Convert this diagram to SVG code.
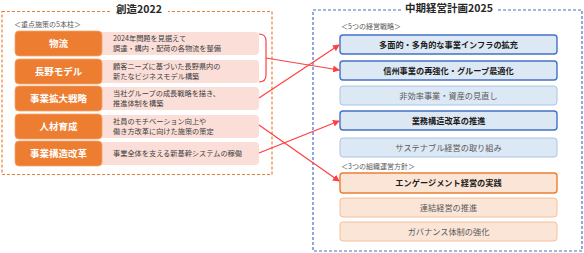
<svg xmlns="http://www.w3.org/2000/svg" width="584" height="253" viewBox="0 0 584 253">
<defs>
<marker id="ah" markerWidth="7" markerHeight="7" refX="6" refY="3.5" orient="auto" markerUnits="userSpaceOnUse">
<path d="M0,0 L7,3.5 L0,7 Z" fill="#ff4040"/>
</marker>
<style>
text{font-family:"Noto Sans CJK JP","Noto Sans",sans-serif;}
.frameL{fill:none;stroke:#ed7d31;stroke-width:1.2;stroke-dasharray:3,2;}
.frameR{fill:none;stroke:#4472c4;stroke-width:1.2;stroke-dasharray:3,2;}
.title{font-size:10.5px;font-weight:bold;fill:#262626;text-anchor:middle;}
.sub{font-size:7px;fill:#595959;}
.lab{fill:#ed7d31;stroke:#f4a46e;stroke-width:0.8;}
.labt{font-size:9.5px;font-weight:bold;fill:#ffffff;text-anchor:middle;}
.desc{fill:#fbded8;}
.desct{font-size:7.2px;fill:#404040;}
.bS{fill:#dde8f5;stroke:#4472c4;stroke-width:1.4;}
.bW{fill:#dde8f5;stroke:#a9c4e8;stroke-width:1;}
.oS{fill:#fbe5d6;stroke:#ed7d31;stroke-width:1.4;}
.oW{fill:#fbe5d6;stroke:#f4c09a;stroke-width:1;}
.tS{font-size:8.2px;font-weight:bold;fill:#1a1a1a;text-anchor:middle;}
.tW{font-size:8.2px;fill:#595959;text-anchor:middle;}
.con{fill:none;stroke:#ff4040;stroke-width:1.2;}
</style>
</defs>
<rect width="584" height="253" fill="#ffffff"/>

<g id="frame-left">
<rect class="frameL" x="2" y="11.5" width="270" height="163"/>
<rect x="111" y="4" width="57" height="14" fill="#ffffff"/>
<text class="title" x="139" y="12.5">創造2022</text>
<text class="sub" x="14" y="27">＜重点施策の5本柱＞</text>
</g>

<g id="frame-right">
<rect class="frameR" x="313" y="10" width="269" height="241"/>
<rect x="402" y="3" width="96" height="14" fill="#ffffff"/>
<text class="title" x="449" y="12">中期経営計画2025</text>
<text class="sub" x="341" y="29">＜5つの経営戦略＞</text>
<text class="sub" x="341" y="169">＜3つの組織運営方針＞</text>
</g>

<g id="pillar-butsuryu">
<rect class="desc" x="98" y="32" width="161" height="23" rx="4"/>
<rect class="lab" x="15" y="31" width="87" height="25" rx="4"/>
<text class="labt" x="58.5" y="46.8">物流</text>
<text class="desct" x="113" y="41">2024年問題を見据えて</text>
<text class="desct" x="113" y="51">調達・構内・配荷の各物流を整備</text>
</g>
<g id="pillar-nagano">
<rect class="desc" x="98" y="60" width="161" height="23" rx="4"/>
<rect class="lab" x="15" y="59" width="87" height="25" rx="4"/>
<text class="labt" x="58.5" y="74.8">長野モデル</text>
<text class="desct" x="113" y="69">顧客ニーズに基づいた長野県内の</text>
<text class="desct" x="113" y="79">新たなビジネスモデル構築</text>
</g>
<g id="pillar-kakudai">
<rect class="desc" x="98" y="87" width="161" height="23" rx="4"/>
<rect class="lab" x="15" y="86" width="87" height="25" rx="4"/>
<text class="labt" x="58.5" y="101.8">事業拡大戦略</text>
<text class="desct" x="113" y="96">当社グループの成長戦略を描き、</text>
<text class="desct" x="113" y="106">推進体制を構築</text>
</g>
<g id="pillar-jinzai">
<rect class="desc" x="98" y="115" width="161" height="23" rx="4"/>
<rect class="lab" x="15" y="114" width="87" height="25" rx="4"/>
<text class="labt" x="58.5" y="129.8">人材育成</text>
<text class="desct" x="113" y="124">社員のモチベーション向上や</text>
<text class="desct" x="113" y="134">働き方改革に向けた施策の策定</text>
</g>
<g id="pillar-kouzou">
<rect class="desc" x="98" y="142" width="161" height="23" rx="4"/>
<rect class="lab" x="15" y="141" width="87" height="25" rx="4"/>
<text class="labt" x="58.5" y="156.8">事業構造改革</text>
<text class="desct" x="113" y="156">事業全体を支える新基幹システムの稼働</text>
</g>

<g id="s1"><rect class="bS" x="340" y="35" width="217" height="19" rx="3"/><text class="tS" x="448.5" y="47.5">多面的・多角的な事業インフラの拡充</text></g>
<g id="s2"><rect class="bS" x="340" y="61" width="217" height="19" rx="3"/><text class="tS" x="448.5" y="73.5">信州事業の再強化・グループ最適化</text></g>
<g id="s3"><rect class="bW" x="340" y="86" width="217" height="19" rx="3"/><text class="tW" x="448.5" y="98.5">非効率事業・資産の見直し</text></g>
<g id="s4"><rect class="bS" x="340" y="111" width="217" height="19" rx="3"/><text class="tS" x="448.5" y="123.5">業務構造改革の推進</text></g>
<g id="s5"><rect class="bW" x="340" y="138" width="217" height="19" rx="3"/><text class="tW" x="448.5" y="150.5">サステナブル経営の取り組み</text></g>
<g id="p1"><rect class="oS" x="340" y="173" width="217" height="20" rx="3"/><text class="tS" x="448.5" y="186">エンゲージメント経営の実践</text></g>
<g id="p2"><rect class="oW" x="340" y="198" width="217" height="19" rx="3"/><text class="tW" x="448.5" y="210.5">連結経営の推進</text></g>
<g id="p3"><rect class="oW" x="340" y="222" width="217" height="19" rx="3"/><text class="tW" x="448.5" y="234.5">ガバナンス体制の強化</text></g>

<g id="connectors">
<path class="con" d="M259,34 Q266,34 266,41 L266,75 Q266,82 259,82"/>
<path class="con" d="M266,58 L339,70" marker-end="url(#ah)"/>
<path class="con" d="M259,98 L339,45" marker-end="url(#ah)"/>
<path class="con" d="M259,125 L339,181" marker-end="url(#ah)"/>
<path class="con" d="M259,153 L339,121" marker-end="url(#ah)"/>
</g>
</svg>
